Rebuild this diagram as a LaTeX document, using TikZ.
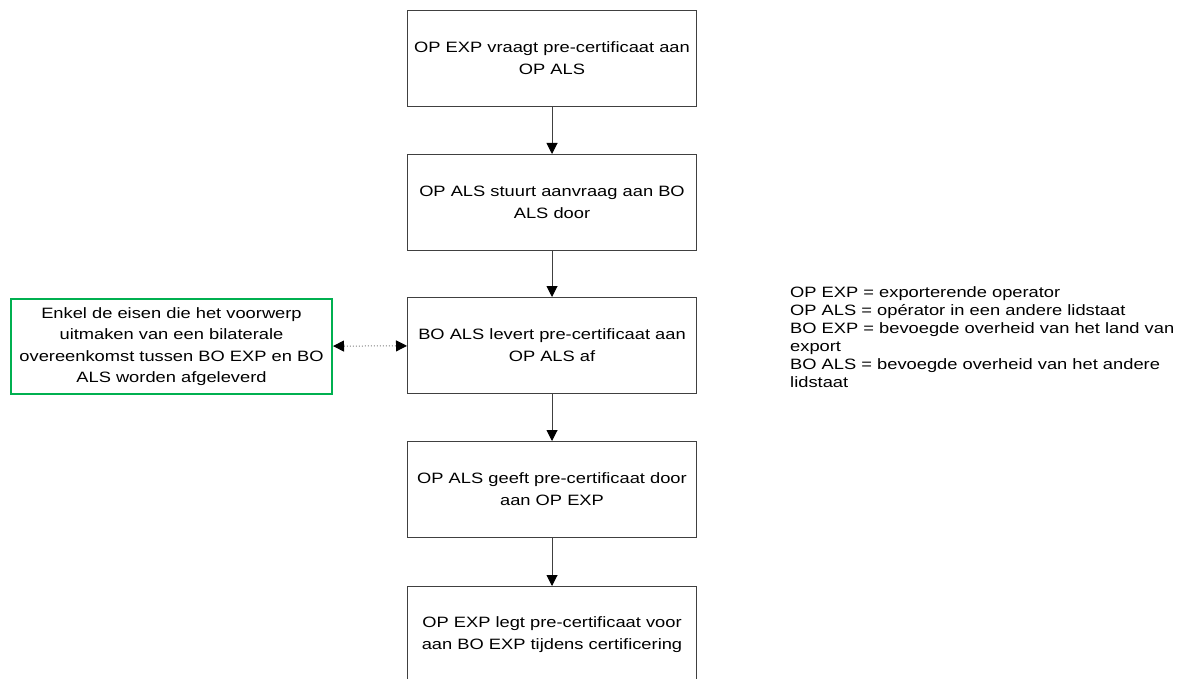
\documentclass[tikz,border=0pt]{standalone}
\usepackage{fontspec}
\setmainfont[FakeStretch=1.22]{Liberation Sans}
\usetikzlibrary{arrows.meta}
\definecolor{boxgreen}{RGB}{0,176,80}
\definecolor{edgegray}{RGB}{64,64,64}
\tikzset{
  stepbox/.style={draw=edgegray, line width=1pt, minimum width=289pt, minimum height=96pt,
    anchor=north west, align=center, inner sep=0pt, font=\fontsize{15pt}{22pt}\selectfont},
  notebox/.style={draw=boxgreen, line width=2pt, minimum width=321pt, minimum height=95pt,
    anchor=north west, align=center, inner sep=0pt, font=\fontsize{15pt}{21.5pt}\selectfont},
  flow/.style={draw=edgegray, line width=1pt, -{Triangle[length=11pt,width=11pt,color=black]}},
  dotlink/.style={draw=gray, line width=1pt, dotted,
    {Triangle[length=11pt,width=11pt,color=black,sep=0pt]}-{Triangle[length=11pt,width=11pt,color=black]}},
  legend/.style={anchor=north west, align=left, inner sep=0pt, font=\fontsize{15pt}{18pt}\selectfont}
}
\begin{document}
\begin{tikzpicture}[x=1pt,y=1pt]
\useasboundingbox (0,0) rectangle (1182,-679);
\clip (0,0) rectangle (1182,-679);
\node[stepbox] (s1) at (407,-10) {OP EXP vraagt pre-certificaat aan\\OP ALS};
\node[stepbox] (s2) at (407,-154) {OP ALS stuurt aanvraag aan BO\\ALS door};
\node[stepbox] (s3) at (407,-297) {BO ALS levert pre-certificaat aan\\OP ALS af};
\node[stepbox] (s4) at (407,-441) {OP ALS geeft pre-certificaat door\\aan OP EXP};
\node[stepbox] (s5) at (407,-586) {OP EXP legt pre-certificaat voor\\aan BO EXP tijdens certificering};
\node[notebox] (n) at (10,-298) {Enkel de eisen die het voorwerp\\uitmaken van een bilaterale\\overeenkomst tussen BO EXP en BO\\ALS worden afgeleverd};
\draw[flow] (s1) -- (s2);
\draw[flow] (s2) -- (s3);
\draw[flow] (s3) -- (s4);
\draw[flow] (s4) -- (s5);
\draw[dotlink] (n) -- (s3);
\node[legend] (lg) at (790,-286) {OP EXP = exporterende operator\\OP ALS = op\'erator in een andere lidstaat\\BO EXP = bevoegde overheid van het land van\\export\\BO ALS = bevoegde overheid van het andere\\lidstaat};
\end{tikzpicture}
\end{document}
